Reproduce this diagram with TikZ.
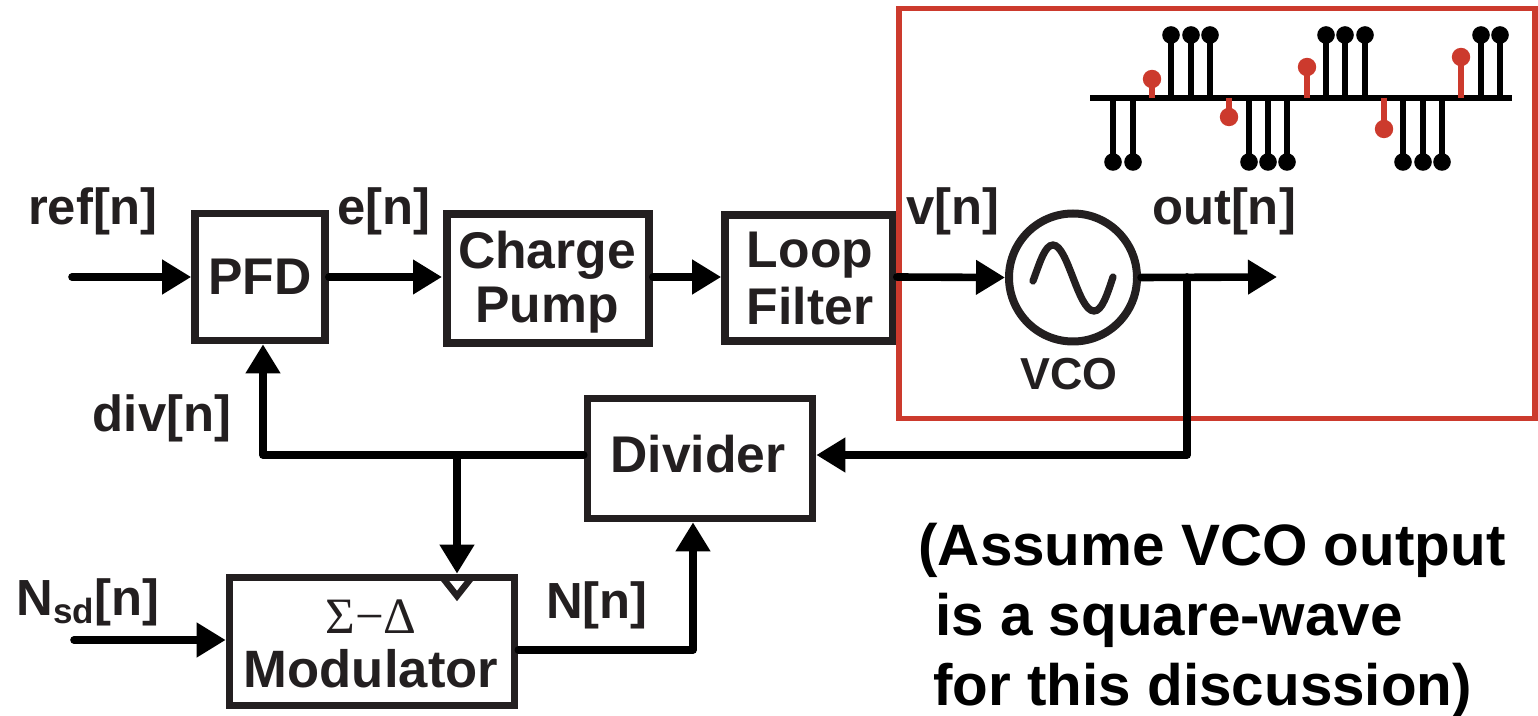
\documentclass[tikz,border=0pt]{standalone}
\usepackage{fontspec}
\setmainfont{Liberation Sans}
\newfontfamily\symfont{Liberation Serif}
\usetikzlibrary{arrows.meta}
\definecolor{ink}{HTML}{231F20}
\definecolor{redbox}{HTML}{CC3A2D}
\tikzset{
  blockbox/.style={draw=ink,line width=3.8pt,fill=none,inner sep=0pt,minimum width=#1},
  lbl/.style={font=\fontsize{25.4}{29}\selectfont\bfseries,text=ink,inner sep=0pt},
  blocktext/.style={font=\fontsize{25.8}{29}\selectfont\bfseries,text=ink,inner sep=0pt,align=center},
  wire/.style={line width=3.8pt,line cap=round,line join=round,draw=black},
  arrowwire/.style={wire,-{Triangle[length=14.5pt,width=16.5pt]}},
  stemline/.style={line width=2.8pt},
  note/.style={font=\fontsize{29.2}{35}\selectfont\bfseries,text=black,inner sep=0pt,anchor=west}
}
\begin{document}
\begin{tikzpicture}[x=0.5pt,y=-0.5pt]
\useasboundingbox (0,0) rectangle (1538,716);
% blocks
\node[blockbox=65pt,minimum height=63.5pt] (pfd) at (260,277) {};
\node[blockbox=101pt,minimum height=64.5pt] (cp) at (548,278.5) {};
\node[blockbox=84pt,minimum height=63pt] (lf) at (809,278) {};
\node[blockbox=112.5pt,minimum height=60pt] (div) at (700,458.5) {};
\node[blockbox=142.5pt,minimum height=64pt] (mod) at (372,641.5) {};
\node[circle,draw=ink,line width=4pt,minimum size=64pt,inner sep=0pt] (vco) at (1073,277.5) {};
% red frame
\node[draw=redbox,line width=2.6pt,minimum width=318pt,minimum height=205pt,inner sep=0pt] (frame) at (1217,213.5) {};
% text
\node[blocktext] (tpfd) at (260,277) {PFD};
\node[blocktext] (tcp1) at (547,255) {Charge};
\node[blocktext] (tcp2) at (547,310) {Pump};
\node[blocktext] (tlf1) at (810,255) {Loop};
\node[blocktext] (tlf2) at (810,306) {Filter};
\node[blocktext] (tdiv) at (698,454) {Divider};
\node[blocktext,font=\fontsize{26.3}{29}\selectfont\bfseries] (tmod) at (371,669) {Modulator};
\node[inner sep=0pt,text=ink,font=\fontsize{25.5}{29}\selectfont\symfont] (tsd) at (371,617) {Σ−Δ};
\node[lbl] (tref) at (93,211) {ref[n]};
\node[lbl] (te) at (384,211) {e[n]};
\node[lbl] (tv) at (953,211) {v[n]};
\node[lbl] (tout) at (1224,211) {out[n]};
\node[lbl] (tdv) at (162,418) {div[n]};
\node[lbl] (tnsd) at (88,602) {N\raisebox{-4pt}{\fontsize{17.5}{17.5}\selectfont sd}[n]};
\node[lbl] (tn) at (597,605) {N[n]};
\node[font=\fontsize{22.4}{26}\selectfont\bfseries,text=ink,inner sep=0pt] (tvco) at (1069,374) {VCO};
\node[note] (n1) at (918,550) {(Assume VCO output};
\node[note] (n2) at (935,620) {is a square-wave};
\node[note] (n3) at (933,690) {for this discussion)};
% sine
\draw[draw=ink,line width=3.6pt,line cap=round]
  (1033,281) .. controls (1040,262) and (1045,245) .. (1053,245)
  .. controls (1068,245) and (1078,311) .. (1094,311)
  .. controls (1102,311) and (1107,295) .. (1113,277);
% named free ends and junctions
\coordinate (refin) at (72,277);
\coordinate (outend) at (1277,277);
\coordinate (nsdin) at (74,640);
\coordinate (branch) at (1187,277);
\coordinate (fbcorner) at (1187,455);
\coordinate (divleft) at (div.west |- fbcorner);
\coordinate (pfdcorner) at (263,455);
\coordinate (tap) at (457,455);
\coordinate (divin) at (693,650);
% connectors
\draw[arrowwire] (refin) -- (pfd.west |- refin);
\draw[arrowwire] (pfd.east |- refin) -- (442,277);
\draw[arrowwire] (cp.east |- refin) -- (lf.west |- refin);
\draw[arrowwire] (lf.east |- refin) -- (vco.west);
\draw[arrowwire] (vco.east) -- (outend);
\draw[arrowwire] (branch) -- (fbcorner) -- (div.east |- fbcorner);
\draw[arrowwire] (divleft) -- (pfdcorner) -- (pfdcorner |- pfd.south);
\draw[arrowwire] (tap) -- (tap |- mod.north);
\draw[arrowwire] (nsdin) -- (mod.west |- nsdin);
\draw[arrowwire] (mod.east |- divin) -- (divin) -- (divin |- div.south);
% clock chevron
\draw[line width=3.2pt,draw=ink,line join=miter] (442,577) -- (457,596) -- (472,577);
% sample plot
\coordinate (axl) at (1090,98);
\coordinate (axr) at (1512,98);
\draw[line width=3pt] (axl) -- (axr);
\foreach \x/\y in {1113/162,1133/162,1171/35,1191/35,1210/35,1249/162,1268/162,1287/162,1326/35,1345/35,1365/35,1403/162,1423/162,1442/162,1481/35,1500/35}{
  \draw[stemline,black] (\x,98) -- (\x,\y);
  \fill[black] (\x,\y) circle (4.4pt);
}
\foreach \x/\y in {1152/79,1229/117,1307/67,1384/129,1461/57}{
  \draw[stemline,redbox] (\x,98) -- (\x,\y);
  \fill[redbox] (\x,\y) circle (4.6pt);
}
\end{tikzpicture}
\end{document}
